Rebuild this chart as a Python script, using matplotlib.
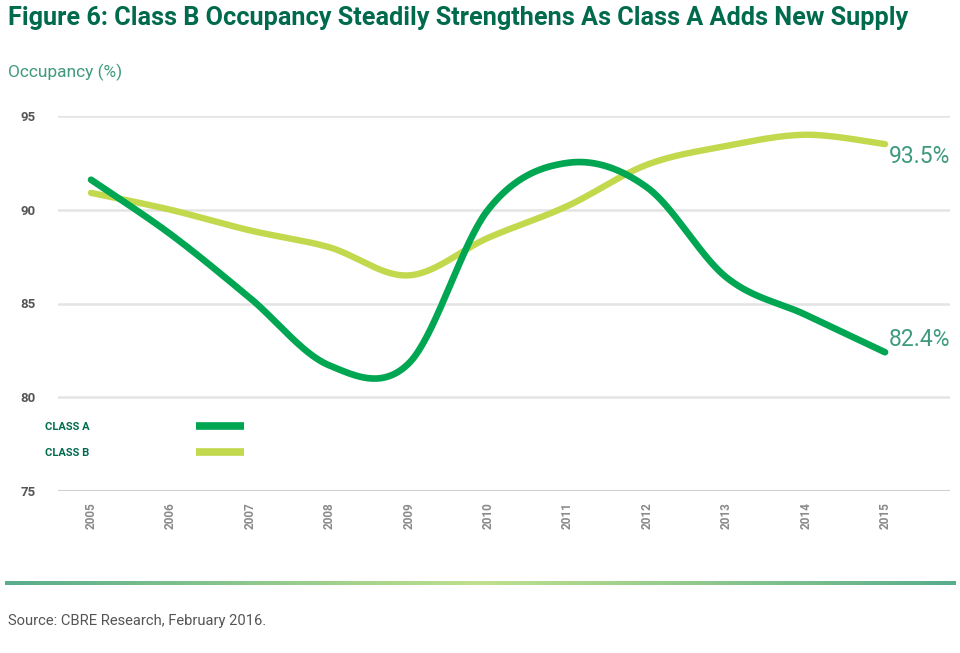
import numpy as np
import matplotlib.pyplot as plt
from matplotlib.lines import Line2D
from matplotlib.colors import LinearSegmentedColormap

years = [2005, 2006, 2007, 2008, 2009, 2010, 2011, 2012, 2013, 2014, 2015]
class_a = [91.6, 88.7, 85.3, 81.7, 81.8, 90.0, 92.5, 91.2, 86.4, 84.4, 82.4]
class_b = [90.9, 90.0, 88.9, 88.0, 86.5, 88.5, 90.2, 92.4, 93.4, 94.0, 93.5]
y_ticks = [75, 80, 85, 90, 95]

title = "Figure 6: Class B Occupancy Steadily Strengthens As Class A Adds New Supply"
source = "Source: CBRE Research, February 2016."

GREEN_A = "#00a651"
GREEN_B = "#c2d94e"
DARK = "#006a4d"
TEAL = "#3f9a7f"
narrow = ["Roboto", "DejaVu Sans"]


def smooth(x, y, n=40):
    # excel-like smoothed line (bezier through the points)
    x = np.asarray(x, float)
    y = np.asarray(y, float)
    px = np.r_[x[0], x, x[-1]]
    py = np.r_[y[0], y, y[-1]]
    xs, ys = [], []
    t = np.linspace(0, 1, n)
    for i in range(1, len(px) - 2):
        p0 = np.array([px[i], py[i]])
        p3 = np.array([px[i + 1], py[i + 1]])
        c1 = p0 + (p3 - np.array([px[i - 1], py[i - 1]])) / 6
        c2 = p3 - (np.array([px[i + 2], py[i + 2]]) - p0) / 6
        pts = ((1 - t) ** 3)[:, None] * p0 + (3 * (1 - t) ** 2 * t)[:, None] * c1 \
            + (3 * (1 - t) * t ** 2)[:, None] * c2 + (t ** 3)[:, None] * p3
        xs.extend(pts[:, 0])
        ys.extend(pts[:, 1])
    return np.array(xs), np.array(ys)


fig = plt.figure(figsize=(9.6, 6.53), dpi=100)
ax = fig.add_axes([58 / 960, (653 - 491) / 653, 892 / 960, 375 / 653])

xa, ya = smooth(years, class_a)
xb, yb = smooth(years, class_b)
ax.plot(xb, yb, color=GREEN_B, lw=4.6, solid_capstyle="round", label="CLASS B", zorder=3)
ax.plot(xa, ya, color=GREEN_A, lw=4.8, solid_capstyle="round", label="CLASS A", zorder=4)

ax.set_xlim(2004.584, 2015.818)
ax.set_ylim(75, 95)
ax.set_yticks(y_ticks)
ax.set_xticks(years)
ax.set_xticklabels([str(y) for y in years], rotation=90, family=narrow,
                   fontsize=8.5, fontweight="bold", color="#8a8a8a")
ax.set_yticklabels([str(v) for v in y_ticks], family=narrow, fontsize=9.5,
                   fontweight="bold", color="#555555")
ax.tick_params(axis="both", length=0)
ax.tick_params(axis="y", pad=16)
ax.tick_params(axis="x", pad=8)
for v in y_ticks[1:]:
    ax.axhline(v, color="#e4e4e4", lw=1.8, zorder=1)
ax.axhline(75, color="#d0d0d0", lw=2.2, zorder=1)
for s in ax.spines.values():
    s.set_visible(False)

ax.annotate("93.5%", (years[-1], class_b[-1]), xytext=(3, -9), textcoords="offset points",
            fontsize=16.5, color=TEAL, ha="left", va="center", family="Roboto")
ax.annotate("82.4%", (years[-1], class_a[-1]), xytext=(3, 9), textcoords="offset points",
            fontsize=16.5, color=TEAL, ha="left", va="center", family="Roboto")

handles = [Line2D([], [], color=GREEN_A, lw=5.5, solid_capstyle="butt"),
           Line2D([], [], color=GREEN_B, lw=5.5, solid_capstyle="butt")]
leg = ax.legend(handles, ["CLASS A", "CLASS B"], loc="upper left",
                bbox_to_anchor=(45 / 960, (653 - 422) / 653), bbox_transform=fig.transFigure,
                frameon=False, markerfirst=False, borderpad=0, borderaxespad=0,
                handlelength=4.3, handletextpad=9.6, labelspacing=1.45,
                prop={"family": narrow, "weight": "bold", "size": 8})
for t in leg.get_texts():
    t.set_color(DARK)

fig.text(8 / 960, 1 - 18 / 653, title, fontsize=18.2, fontweight="bold", color=DARK,
         ha="left", va="center", family="Roboto")
fig.text(8 / 960, 1 - 72 / 653, "Occupancy (%)", fontsize=12.5, color=TEAL,
         ha="left", va="center", family=narrow)
fig.text(8 / 960, 1 - 621 / 653, source, fontsize=10.6, color="#555555",
         ha="left", va="center", family=narrow)

# gradient rule above the source line
rule = fig.add_axes([5 / 960, (653 - 585) / 653, 950 / 960, 4 / 653])
grad = np.linspace(0, 1, 256)
grad = 1 - np.abs(grad - 0.5) * 2
cmap = LinearSegmentedColormap.from_list("rule", ["#58ad8c", "#bfe08c"])
rule.imshow(grad[None, :], aspect="auto", cmap=cmap)
rule.set_axis_off()

fig.savefig("out.png", dpi=100, facecolor="white")
